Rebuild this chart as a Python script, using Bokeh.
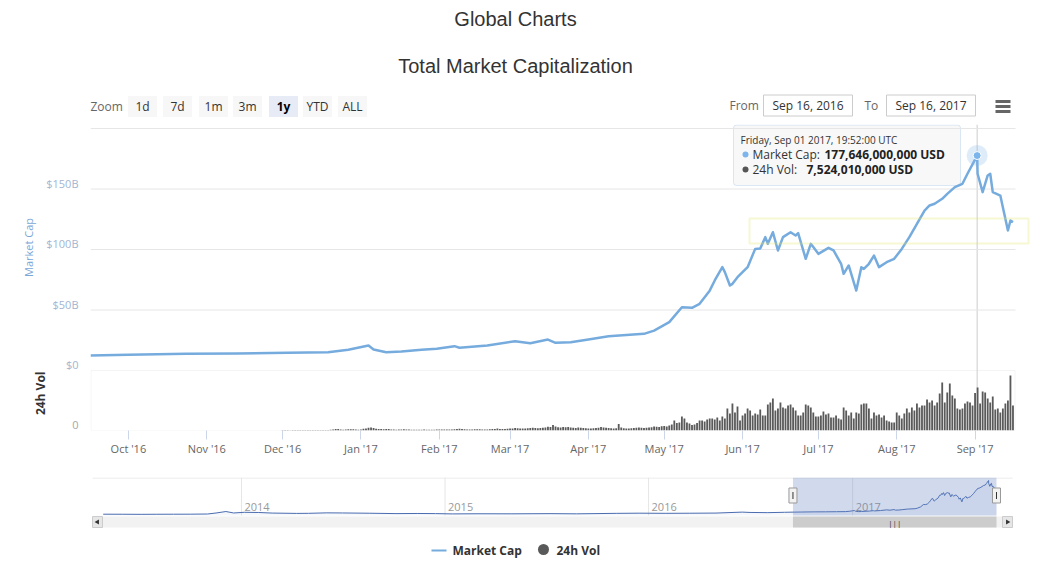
import numpy as np
import pandas as pd
from bokeh.plotting import figure
from bokeh.layouts import column, row
from bokeh.models import Range1d, FixedTicker, BoxAnnotation, Span, DatetimeTickFormatter
from bokeh.core.properties import value
from bokeh.embed import file_html
from bokeh.resources import INLINE

# ---------------- data ----------------
# Total market capitalization, billions of USD
cap_dates = [
    "2016-09-16", "2016-10-01", "2016-10-24", "2016-11-13", "2016-12-03", "2016-12-19",
    "2016-12-27", "2017-01-04", "2017-01-06", "2017-01-11", "2017-01-17", "2017-01-25",
    "2017-01-31", "2017-02-07", "2017-02-09", "2017-02-20", "2017-03-03", "2017-03-09",
    "2017-03-16", "2017-03-19", "2017-03-25", "2017-04-01", "2017-04-09", "2017-04-23",
    "2017-04-27", "2017-05-03", "2017-05-08", "2017-05-12", "2017-05-15", "2017-05-19",
    "2017-05-21", "2017-05-24", "2017-05-25", "2017-05-27", "2017-05-28", "2017-05-30",
    "2017-06-03", "2017-06-06", "2017-06-08", "2017-06-10", "2017-06-11", "2017-06-13",
    "2017-06-15", "2017-06-17", "2017-06-20", "2017-06-22", "2017-06-23", "2017-06-26",
    "2017-06-28", "2017-07-01", "2017-07-05", "2017-07-07", "2017-07-10", "2017-07-11",
    "2017-07-13", "2017-07-16", "2017-07-18", "2017-07-19", "2017-07-21", "2017-07-23",
    "2017-07-25", "2017-07-28", "2017-07-31", "2017-08-03", "2017-08-06", "2017-08-09",
    "2017-08-12", "2017-08-14", "2017-08-16", "2017-08-19", "2017-08-21", "2017-08-24",
    "2017-08-27", "2017-08-29", "2017-09-01 19:52", "2017-09-02", "2017-09-04", "2017-09-06",
    "2017-09-07", "2017-09-08", "2017-09-11", "2017-09-12", "2017-09-14", "2017-09-15",
    "2017-09-16",
]
cap_values = [
    12.4, 13.0, 13.8, 14.0, 14.6, 15.1,
    17.1, 20.7, 17.4, 15.1, 15.7, 17.1,
    17.9, 20.1, 18.8, 20.7, 24.2, 22.6,
    25.6, 22.9, 23.4, 25.6, 28.3, 30.3,
    33.0, 40.0, 52.3, 51.8, 55.1, 66.0,
    74.4, 85.4, 81.3, 70.2, 71.6, 77.1,
    85.4, 100.5, 100.8, 110.2, 104.7, 114.3,
    99.2, 110.2, 114.3, 111.6, 113.5, 92.3,
    104.7, 96.4, 101.4, 99.2, 88.2, 79.9,
    86.8, 66.1, 85.4, 84.0, 88.2, 95.0,
    85.4, 89.5, 92.3, 100.5, 110.2, 121.2,
    132.2, 136.4, 137.8, 141.9, 146.0, 151.5,
    154.3, 162.6, 177.646, 162.6, 147.4, 161.2,
    162.6, 147.4, 144.6, 135.0, 115.7, 124.0,
    122.6,
]

# Daily 24h volume, billions of USD, from 2016-12-01
vol_start = "2016-12-01"
vol_dec_2016 = [0.09, 0.1, 0.08, 0.07, 0.09, 0.1, 0.1, 0.09, 0.1, 0.08, 0.08, 0.09, 0.1, 0.1, 0.11, 0.1,
                0.1, 0.12, 0.12, 0.15, 0.2, 0.3, 0.28, 0.2, 0.15, 0.22, 0.25, 0.24, 0.23, 0.2, 0.15]
vol_jan_2017 = [0.22, 0.35, 0.38, 0.55, 0.6, 0.5, 0.35, 0.3, 0.32, 0.25, 0.3, 0.28, 0.22, 0.18, 0.15, 0.18,
                0.22, 0.25, 0.2, 0.18, 0.15, 0.14, 0.16, 0.15, 0.17, 0.18, 0.16, 0.14, 0.13, 0.15, 0.18]
vol_feb_2017 = [0.2, 0.18, 0.2, 0.22, 0.18, 0.2, 0.25, 0.3, 0.35, 0.28, 0.25, 0.2, 0.18, 0.22, 0.25, 0.27,
                0.25, 0.2, 0.18, 0.22, 0.25, 0.28, 0.32, 0.38, 0.3, 0.28, 0.3, 0.33]
vol_mar_2017 = [0.38, 0.4, 0.5, 0.45, 0.4, 0.38, 0.42, 0.45, 0.48, 0.55, 0.5, 0.45, 0.5, 0.55, 0.6, 0.75,
                0.7, 1.1, 0.8, 0.65, 0.6, 0.7, 0.65, 0.7, 0.6, 0.55, 0.5, 0.6, 0.55, 0.5, 0.45]
vol_apr_2017 = [0.42, 0.4, 0.45, 0.5, 0.55, 0.7, 0.6, 0.55, 0.5, 0.45, 0.4, 0.45, 1.3, 0.6, 0.45, 0.4,
                0.42, 0.45, 0.5, 0.55, 0.6, 0.55, 0.5, 0.55, 0.6, 0.65, 0.8, 0.75, 0.7, 0.85]
vol_may_2017 = [0.9, 0.8, 1.0, 1.2, 2.0, 1.5, 1.6, 2.8, 2.4, 1.6, 1.4, 1.1, 1.2, 1.5, 2.0, 2.0,
                1.8, 2.2, 2.4, 2.4, 2.2, 2.6, 2.0, 2.8, 2.4]
vol_late_may_to_sep_2017 = [
    4.4, 3.4, 5.4, 3.6, 4.8, 2.0, 3.0, 3.4, 4.4, 4.0,
    3.0, 3.4, 3.2, 4.2, 3.0, 3.0, 5.2, 5.6, 6.4, 4.0,
    4.4, 5.6, 4.6, 4.4, 5.0, 5.2, 4.6, 4.0, 3.0, 3.0,
    3.6, 5.2, 5.0, 4.6, 3.6, 2.8, 2.8, 3.0, 3.8, 3.2,
    3.4, 2.6, 2.6, 3.0, 2.4, 2.2, 4.6, 4.0, 3.0, 3.6,
    2.4, 3.6, 3.4, 5.2, 5.4, 5.4, 4.4, 2.4, 3.6, 3.0,
    3.2, 2.6, 3.0, 2.0, 1.8, 1.6, 1.6, 3.6, 3.0, 2.4,
    3.4, 4.4, 3.6, 4.6, 4.0, 5.4, 4.6, 5.0, 5.0, 6.2,
    5.6, 6.0, 5.0, 5.6, 7.4, 9.6, 5.6, 7.6, 9.4, 7.0,
    6.4, 4.4, 4.2, 4.4, 5.4, 5.8, 5.6, 5.0, 7.52401, 8.6,
    5.4, 7.8, 7.6, 6.4, 5.6, 6.8, 4.2, 4.4, 3.6, 4.4,
    5.4, 6.0, 11.0, 5.0,
]

# Full history shown in the navigator (before the one-year window), billions of USD
hist_dates = [
    "2013-04-28", "2013-06-01", "2013-07-05", "2013-08-01", "2013-09-01", "2013-10-01",
    "2013-11-01", "2013-11-18", "2013-12-04", "2013-12-18", "2014-01-06", "2014-02-01",
    "2014-02-25", "2014-04-10", "2014-05-01", "2014-06-03", "2014-07-01", "2014-08-18",
    "2014-10-05", "2014-11-12", "2014-12-15", "2015-01-14", "2015-03-01", "2015-05-01",
    "2015-07-10", "2015-08-25", "2015-11-04", "2015-12-15", "2016-02-01", "2016-03-15",
    "2016-05-01", "2016-06-17", "2016-07-01", "2016-08-02", "2016-09-01",
]
hist_values = [
    1.6, 1.4, 0.9, 1.3, 1.5, 1.7,
    2.6, 8.5, 15.6, 8.0, 11.5, 10.5,
    7.5, 5.8, 6.2, 8.6, 8.1, 6.7,
    4.7, 5.4, 4.7, 3.2, 3.9, 3.6,
    4.6, 3.5, 6.0, 6.9, 6.2, 6.7,
    7.5, 12.5, 10.8, 9.7, 11.6,
]

month_ticks = ["2016-10-01", "2016-11-01", "2016-12-01", "2017-01-01", "2017-02-01", "2017-03-01",
               "2017-04-01", "2017-05-01", "2017-06-01", "2017-07-01", "2017-08-01", "2017-09-01"]
cap_ticks = [0, 50, 100, 150]
cap_tick_labels = ["$0", "$50B", "$100B", "$150B"]
cap_grid = [50, 100, 150, 200]
year_ticks = ["2014-01-01", "2015-01-01", "2016-01-01", "2017-01-01"]
year_labels = ["2014", "2015", "2016", "2017"]
zoom_buttons = ["1d", "7d", "1m", "3m", "1y", "YTD", "ALL"]
zoom_selected = "1y"
window_from = "2016-09-16"
window_to = "2017-09-16"

# ---------------- derived series ----------------
cap_x = pd.to_datetime(cap_dates, format="mixed")
vol_values = (vol_dec_2016 + vol_jan_2017 + vol_feb_2017 + vol_mar_2017 + vol_apr_2017
              + vol_may_2017 + vol_late_may_to_sep_2017)
vol_x = pd.date_range(vol_start, periods=len(vol_values), freq="D")
nav_x = pd.to_datetime(hist_dates + cap_dates, format="mixed")
nav_values = hist_values + cap_values

peak_i = int(np.argmax(cap_values))
peak_x = cap_x[peak_i]
peak_cap = cap_values[peak_i]
peak_vol = vol_values[list(vol_x).index(peak_x.normalize())]

FONT = value("Open Sans")
TITLE_FONT = value("Liberation Sans")
LINE_BLUE = "#76abde"
DAY_MS = 86400000

# ---------------- geometry ----------------
FRAME_H = 306            # market-cap pane (246 px) stacked on volume pane (60 px)
CAP_PX_PER_B = 1.21
VOL_PANE_PX = 60
VOL_PANE_MAX = 12.0      # billions shown over the volume pane height
PLOT_LEFT, PLOT_RIGHT, DRAW_RIGHT = 90, 1015, 1030
MAIN_DAY_PX = (PLOT_RIGHT - PLOT_LEFT) / 366.0
cap_range = Range1d(-VOL_PANE_PX / CAP_PX_PER_B, (FRAME_H - VOL_PANE_PX) / CAP_PX_PER_B)
vol_range = Range1d(0, VOL_PANE_MAX * FRAME_H / VOL_PANE_PX)

NAV_ANCHOR, NAV_ANCHOR_PX, NAV_DAY_PX = pd.Timestamp("2014-01-01"), 241.0, 0.5576


def blank(width, height, **kw):
    p = figure(width=width, height=height, output_backend="svg", toolbar_location=None,
               x_axis_location=None, y_axis_location=None,
               min_border_left=0, min_border_right=0, **kw)
    p.grid.visible = False
    p.outline_line_color = None
    p.background_fill_color = "white"
    p.border_fill_color = "white"
    return p


# ---------------- header: titles and range selector ----------------
head = blank(1050, 124, x_range=Range1d(0, 1050), y_range=Range1d(124, 0),
             min_border_top=0, min_border_bottom=0)
head.text(x=[515], y=[18], text=["Global Charts"], text_font=TITLE_FONT, text_font_size="20px",
          text_color="#333333", text_align="center", text_baseline="middle")
head.text(x=[515], y=[65], text=["Total Market Capitalization"], text_font=TITLE_FONT,
          text_font_size="20px", text_color="#333333", text_align="center", text_baseline="middle")
head.text(x=[90], y=[106], text=["Zoom"], text_font=FONT, text_font_size="12px",
          text_color="#666666", text_baseline="middle")
btn_x = [142, 177, 213, 247, 283, 317, 352]
btn_fill = ["#e6ebf5" if b == zoom_selected else "#f7f7f7" for b in zoom_buttons]
head.rect(x=btn_x, y=[106] * len(btn_x), width=29, height=21, fill_color=btn_fill, line_color=None)
for bx, b in zip(btn_x, zoom_buttons):
    head.text(x=[bx], y=[106], text=[b], text_font=FONT, text_font_size="12px",
              text_color="#000000" if b == zoom_selected else "#333333",
              text_font_style="bold" if b == zoom_selected else "normal",
              text_align="center", text_baseline="middle")
head.text(x=[729, 864], y=[105, 105], text=["From", "To"], text_font=FONT, text_font_size="12px",
          text_color="#666666", text_baseline="middle")
head.rect(x=[807.5, 930.5], y=[105, 105], width=89, height=21, fill_color="white",
          line_color="#cccccc")
for bx, d in zip([807.5, 930.5], [window_from, window_to]):
    head.text(x=[bx], y=[105], text=[pd.Timestamp(d).strftime("%b %d, %Y").replace(" 0", " ")],
              text_font=FONT, text_font_size="12px", text_color="#333333",
              text_align="center", text_baseline="middle")
head.segment(x0=[995] * 3, x1=[1010] * 3, y0=[101, 106, 111], y1=[101, 106, 111],
             line_color="#666666", line_width=3)

# ---------------- left margin: axis labels ----------------
left = blank(PLOT_LEFT, 334, x_range=Range1d(0, PLOT_LEFT), y_range=cap_range,
             min_border_top=0, min_border_bottom=28)
left.extra_y_ranges = {"vol": vol_range}
left.text(x=[78] * len(cap_ticks), y=cap_ticks, text=cap_tick_labels, y_offset=-6,
          text_font=FONT, text_font_size="11px", text_color="#a2b5d1",
          text_align="right", text_baseline="middle")
left.text(x=[78], y=[0], text=["0"], y_offset=-6, y_range_name="vol", text_font=FONT,
          text_font_size="11px", text_color="#a6a6a6", text_align="right", text_baseline="middle")
left.text(x=[28], y=[cap_range.end / 2], text=["Market Cap"], angle=np.pi / 2, text_font=FONT,
          text_font_size="11px", text_color="#7ba7d7", text_align="center", text_baseline="middle")
left.text(x=[40], y=[VOL_PANE_MAX * 0.62], y_range_name="vol", text=["24h Vol"], angle=np.pi / 2,
          text_font=FONT, text_font_size="12px", text_font_style="bold", text_color="#333333",
          text_align="center", text_baseline="middle")

# ---------------- main chart: market cap + volume ----------------
x_start = pd.Timestamp(window_from)
x_end = pd.Timestamp(window_to) + pd.Timedelta(days=1 + (DRAW_RIGHT - PLOT_RIGHT) / MAIN_DAY_PX)
main = figure(width=1050 - PLOT_LEFT, height=334, x_axis_type="datetime", y_axis_location=None,
              x_range=Range1d(x_start, x_end), y_range=cap_range,
              output_backend="svg", toolbar_location=None,
              min_border_left=0, min_border_right=1050 - DRAW_RIGHT,
              min_border_top=0, min_border_bottom=28)
main.outline_line_color = None
main.grid.visible = False
main.extra_y_ranges = {"vol": vol_range, "px": Range1d(124 + FRAME_H, 124)}
main.extra_x_ranges = {"px": Range1d(PLOT_LEFT, DRAW_RIGHT)}

# horizontal grid of the market-cap pane
main.segment(x0=[PLOT_LEFT] * len(cap_grid), x1=[PLOT_RIGHT] * len(cap_grid), y0=cap_grid, y1=cap_grid,
             x_range_name="px", line_color="#e6e6e6", line_width=1)

main.xaxis.ticker = FixedTicker(ticks=[pd.Timestamp(d).value // 10**6 for d in month_ticks])
main.xaxis.formatter = DatetimeTickFormatter(days="%b '%y", months="%b '%y", years="%b '%y")
main.xaxis.axis_line_color = None
main.xaxis.major_tick_line_color = "#ccd6eb"
main.xaxis.major_tick_in = 0
main.xaxis.major_tick_out = 9
main.xaxis.minor_tick_line_color = None
main.xaxis.major_label_standoff = 1
main.xaxis.major_label_text_font = "Open Sans"
main.xaxis.major_label_text_font_size = "11px"
main.xaxis.major_label_text_color = "#666666"

# volume pane frame
main.add_layout(BoxAnnotation(left=PLOT_LEFT + 0.5, right=PLOT_RIGHT - 0.5, bottom=0, top=VOL_PANE_MAX,
                              x_range_name="px", y_range_name="vol", fill_alpha=0,
                              line_color="#dcdcdc", line_width=1, level="underlay"))

main.vbar(x=vol_x, top=vol_values, width=0.72 * DAY_MS, y_range_name="vol",
          fill_color="#5a5a5a", line_color=None)

main.add_layout(Span(location=peak_x.value // 10**6, dimension="height",
                     line_color="#cccccc", line_width=1, level="underlay"))

main.line(cap_x, cap_values, line_color=LINE_BLUE, line_width=2.5, line_join="round")

# highlighted consolidation band
main.add_layout(BoxAnnotation(left=749, right=1028, top=218, bottom=243,
                              x_range_name="px", y_range_name="px", fill_alpha=0,
                              line_color="#e3e36a", line_width=2))

# hover marker
main.scatter([peak_x], [peak_cap], size=21, fill_color="#7cb5ec", fill_alpha=0.25, line_color=None)
main.scatter([peak_x], [peak_cap], size=8, fill_color="#7cb5ec", line_color="white", line_width=1)

# tooltip
main.add_layout(BoxAnnotation(left=733, right=960, top=124.5, bottom=185,
                              x_range_name="px", y_range_name="px",
                              fill_color="#f7f7f7", fill_alpha=0.9,
                              line_color="#8ab6e2", line_width=1, border_radius=3,
                              level="underlay"))
main.text(x=[740], y=[139], x_range_name="px", y_range_name="px",
          text=[peak_x.strftime("%A, %b %d %Y, %H:%M:%S UTC")], text_font=FONT,
          text_font_size="10px", text_color="#333333", text_baseline="middle")
main.scatter([745, 745], [154, 169], x_range_name="px", y_range_name="px", size=6,
             fill_color=["#7cb5ec", "#555555"], line_color=None)
main.text(x=[752, 752], y=[154, 169], x_range_name="px", y_range_name="px",
          text=["Market Cap:", "24h Vol:"], text_font=FONT, text_font_size="12px",
          text_color="#333333", text_baseline="middle")
main.text(x=[824, 806], y=[154, 169], x_range_name="px", y_range_name="px",
          text=[f"{round(peak_cap * 1e9):,} USD", f"{round(peak_vol * 1e9):,} USD"],
          text_font=FONT, text_font_size="12px", text_font_style="bold",
          text_color="#222222", text_baseline="middle")

# ---------------- navigator + scrollbar ----------------
NAV_TOP, NAV_BOTTOM, SB_TOP, SB_BOTTOM = 477, 515, 516, 527
SB_LEFT, SB_RIGHT = 92, 1012
nav_start = NAV_ANCHOR - pd.Timedelta(days=NAV_ANCHOR_PX / NAV_DAY_PX)
nav_end = NAV_ANCHOR + pd.Timedelta(days=(1050 - NAV_ANCHOR_PX) / NAV_DAY_PX)
nav = blank(1050, 70, x_range=Range1d(nav_start, nav_end), y_range=Range1d(528, 477),
            min_border_top=19, min_border_bottom=0)
nav.extra_y_ranges = {"cap": Range1d(-73.1, 193.3)}
nav.extra_x_ranges = {"px": Range1d(0, 1050)}
nav.segment(x0=[SB_LEFT], x1=[SB_RIGHT], y0=[NAV_TOP + 0.5], y1=[NAV_TOP + 0.5], x_range_name="px",
            line_color="#e6e6e6")
ytx = pd.to_datetime(year_ticks)
nav.segment(x0=ytx, x1=ytx, y0=[NAV_TOP] * 4, y1=[NAV_BOTTOM] * 4, line_color="#e6e6e6")
nav.text(x=ytx, y=[506] * 4, text=year_labels, x_offset=3, text_font=FONT, text_font_size="11px",
         text_color="#999999", text_baseline="middle")
nav.varea(x=nav_x, y1=-5.2, y2=nav_values, y_range_name="cap", fill_color="#335cad", fill_alpha=0.05)
nav.line(nav_x, nav_values, y_range_name="cap", line_color="#4a6cb0", line_width=1)
wf, wt = pd.Timestamp(window_from), pd.Timestamp(window_to)
nav.quad(left=[wf], right=[wt], top=[NAV_TOP], bottom=[NAV_BOTTOM], fill_color="#6685c2",
         fill_alpha=0.3, line_color=None)
# scrollbar
nav.quad(left=[SB_LEFT], right=[SB_RIGHT], top=[SB_TOP], bottom=[SB_BOTTOM], x_range_name="px",
         fill_color="#f2f2f2", line_color=None)
nav.quad(left=[wf], right=[wt], top=[SB_TOP], bottom=[SB_BOTTOM], fill_color="#cccccc",
         line_color=None)
nav.text(x=[wf + (wt - wf) / 2], y=[(SB_TOP + SB_BOTTOM) / 2], text=["|||"], text_font=FONT,
         text_font_size="8px", text_color="#333333", text_align="center", text_baseline="middle")
nav.quad(left=[SB_LEFT, SB_RIGHT - 10], right=[SB_LEFT + 10, SB_RIGHT], top=[SB_TOP] * 2,
         bottom=[SB_BOTTOM] * 2, x_range_name="px", fill_color="#e6e6e6", line_color="#cccccc")
nav.scatter([SB_LEFT + 5, SB_RIGHT - 5], [521.5, 521.5], x_range_name="px", marker="triangle",
            angle=[np.pi / 2, -np.pi / 2], size=5, fill_color="#333333", line_color=None)
# handles
nav.rect(x=[wf, wt], y=[495, 495], width=8, height=15, width_units="screen", height_units="screen",
         fill_color="#f2f2f2", line_color="#999999")
nav.scatter([wf, wt], [495, 495], marker="dash", angle=np.pi / 2, size=7, line_color="#333333")

# ---------------- legend ----------------
leg = blank(1050, 56, x_range=Range1d(0, 1050), y_range=Range1d(56, 0),
            min_border_top=0, min_border_bottom=0)
leg.segment(x0=[431], x1=[446], y0=[22], y1=[22], line_color=LINE_BLUE, line_width=2)
leg.text(x=[452], y=[22], text=["Market Cap"], text_font=FONT, text_font_size="12px",
         text_font_style="bold", text_color="#333333", text_baseline="middle")
leg.scatter([543], [21], size=11, fill_color="#595959", line_color=None)
leg.text(x=[556], y=[22], text=["24h Vol"], text_font=FONT, text_font_size="12px",
         text_font_style="bold", text_color="#333333", text_baseline="middle")

page = column(head, row(left, main), nav, leg)
open("out.html", "w").write(file_html(page, INLINE))
